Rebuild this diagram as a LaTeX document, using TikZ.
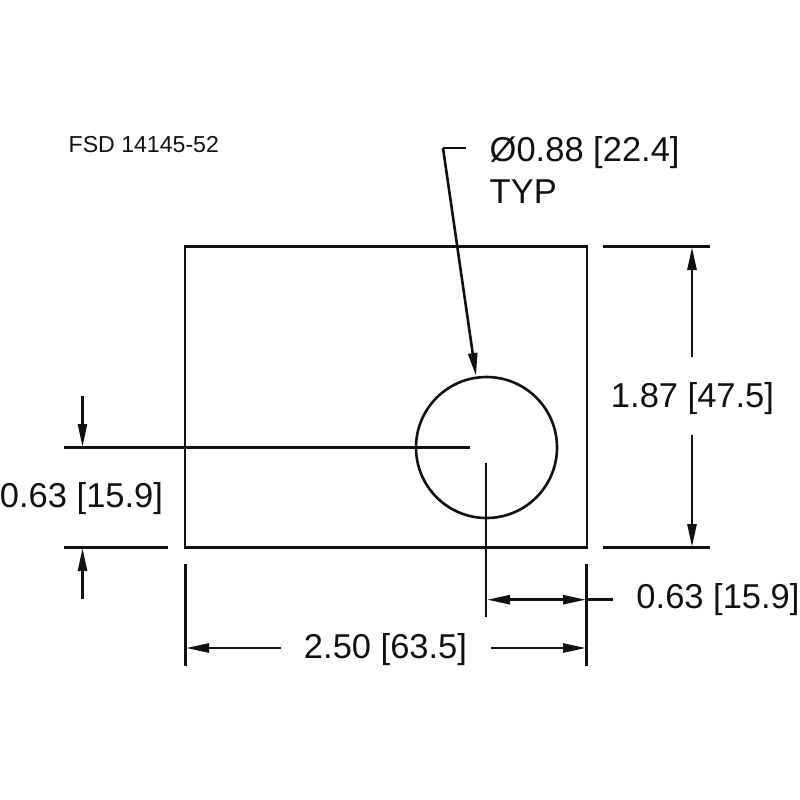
\documentclass[tikz,border=0pt]{standalone}
\usepackage{fontspec}
\setmainfont{Liberation Sans}
\usetikzlibrary{arrows.meta}
\definecolor{ink}{HTML}{111111}
\tikzset{
 part/.style={draw=ink,line width=2.6pt},
 dim/.style={draw=ink,line width=2.6pt},
 arr/.style={dim,-{Stealth[length=23pt,width=9pt,inset=0pt]}},
 lab/.style={inner sep=0pt,text=ink,font=\fontsize{34.5pt}{40pt}\selectfont,anchor=base},
}
\begin{document}
\begin{tikzpicture}[x=1pt,y=-1pt]
\useasboundingbox (0,0) rectangle (800,800);
\fill[white] (0,0) rectangle (800,800);
\node[part,rectangle,inner sep=0pt,outer sep=0pt,minimum width=402pt,minimum height=301.5pt] (plate) at (386,397) {};
\node[part,circle,inner sep=0pt,outer sep=0pt,minimum size=141pt] (hole) at (486.5,447.5) {};
\node[inner sep=0pt,text=ink,anchor=base west,font=\fontsize{23.1pt}{26pt}\selectfont] (fsd) at (68.5,152) {FSD 14145-52};
% diameter leader
\node[lab,anchor=base west] (dia) at (489.5,161) {Ø0.88 [22.4]};
\node[lab,anchor=base west] (typ) at (489.5,203) {TYP};
\coordinate (l0) at (466,148);
\coordinate (l1) at (443,148);
\coordinate (l2) at (476,376);
\draw[dim] (l0) -- (l1);
\draw[arr] (l1) -- (l2);
% height
\coordinate (e1a) at (603,246.3); \coordinate (e1b) at (710,246.3);
\coordinate (e2a) at (603,547.7); \coordinate (e2b) at (710,547.7);
\draw[dim] (e1a) -- (e1b);
\draw[dim] (e2a) -- (e2b);
\node[lab] (h) at (692.5,407) {1.87 [47.5]};
\coordinate (ha) at (692,357); \coordinate (hb) at (692,435);
\coordinate (hat) at (692,247); \coordinate (hbt) at (692,547);
\draw[arr] (ha) -- (hat);
\draw[arr] (hb) -- (hbt);
% left dim
\coordinate (c1) at (64,447.3); \coordinate (c2) at (470,447.3);
\draw[dim] (c1) -- (c2);
\coordinate (e3a) at (64,547.7); \coordinate (e3b) at (168,547.7);
\draw[dim] (e3a) -- (e3b);
\node[lab] (lft) at (81.5,507) {0.63 [15.9]};
\coordinate (u0) at (82.5,396); \coordinate (u0t) at (82.5,447);
\coordinate (u1) at (82.5,599); \coordinate (u1t) at (82.5,548);
\draw[arr] (u0) -- (u0t);
\draw[arr] (u1) -- (u1t);
% bottom ext
\coordinate (v0) at (185.5,564); \coordinate (v1) at (185.5,666);
\draw[dim] (v0) -- (v1);
\coordinate (v2) at (586.5,564); \coordinate (v3) at (586.5,666);
\draw[dim] (v2) -- (v3);
\coordinate (v4) at (486,463); \coordinate (v5) at (486,617);
\draw[dim] (v4) -- (v5);
% small dim
\coordinate (s0) at (540,599.7);
\coordinate (s1) at (613,599.7);
\coordinate (sl) at (487,599.7); \coordinate (sr) at (586,599.7);
\draw[arr] (s0) -- (sl);
\draw[arr] (s0) -- (sr);
\draw[dim] (s1) -- (sr);
\node[lab] (sm) at (718,608) {0.63 [15.9]};
% width
\node[lab] (w) at (385.5,658) {2.50 [63.5]};
\coordinate (w0) at (281,648); \coordinate (w1) at (491,648);
\coordinate (wl) at (186,648); \coordinate (wr) at (586,648);
\draw[arr] (w0) -- (wl);
\draw[arr] (w1) -- (wr);
\end{tikzpicture}
\end{document}
